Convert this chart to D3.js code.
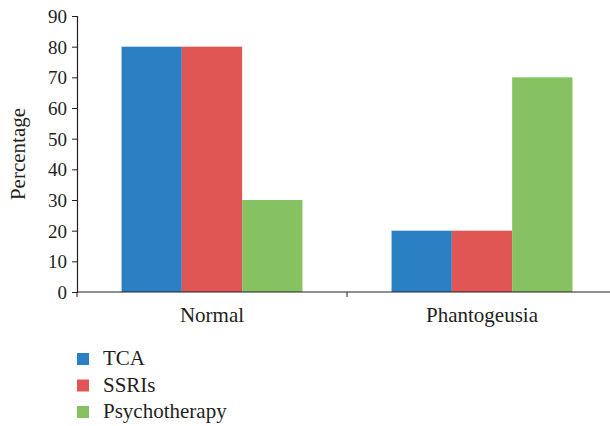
<!DOCTYPE html>
<html>
<head>
<meta charset="utf-8">
<script src="https://cdn.jsdelivr.net/npm/d3@7"></script>
<style>
  body { margin: 0; background: #fff; }
  svg text { font-family: "Liberation Serif", "Times New Roman", serif !important; fill: #231f20; }
</style>
</head>
<body>
<div id="chart"></div>
<script>
var categories = ["Normal", "Phantogeusia"];
var seriesNames = ["TCA", "SSRIs", "Psychotherapy"];
var tca = [80, 20];
var ssris = [80, 20];
var psychotherapy = [30, 70];
var yTicks = [0, 10, 20, 30, 40, 50, 60, 70, 80, 90];
var colors = ["#2a80c2", "#e05654", "#86c261"];

var seriesValues = [tca, ssris, psychotherapy];
var width = 610, height = 426;
var serif = "'Liberation Serif', 'Times New Roman', serif";

var svg = d3.select("#chart")
	.append("svg")
	.attr("width", width)
	.attr("height", height);

// outer scale for the groups, inner one for the bars in a group
var x0 = d3.scaleBand()
	.domain(categories)
	.range([77, 617])
	.paddingInner(0.33)
	.paddingOuter(0.165);

var x1 = d3.scaleBand()
	.domain(seriesNames)
	.range([0, x0.bandwidth()]);

var y = d3.scaleLinear()
	.domain([0, 90])
	.range([292, 16]);

var rows = categories.map(function(c, i) {
	return seriesNames.map(function(s, j) {
		return { cat: c, series: s, value: seriesValues[j][i], color: colors[j] };
	});
});

var group = svg.selectAll(".group")
	.data(rows)
	.enter().append("g")
	.attr("class", "group")
	.attr("transform", function(d, i) { return "translate(" + x0(categories[i]) + ",0)"; });

group.selectAll("rect")
	.data(function(d) { return d; })
	.enter().append("rect")
	.attr("x", function(d) { return x1(d.series); })
	.attr("y", function(d) { return y(d.value); })
	.attr("width", x1.bandwidth())
	.attr("height", function(d) { return y(0) - y(d.value); })
	.style("fill", function(d) { return d.color; });

// y axis
var yAxis = svg.append("g")
	.attr("transform", "translate(77,0)")
	.call(d3.axisLeft(y).tickValues(yTicks).tickSize(5).tickPadding(5));
yAxis.attr("font-family", serif).attr("font-size", 19);
yAxis.select(".domain").attr("stroke", "#231f20").attr("stroke-width", 1.2);
yAxis.selectAll(".tick line").attr("stroke", "#231f20");
yAxis.selectAll("text").style("font-size", "19px").style("font-family", serif)
	.style("fill", "#231f20").attr("dy", "0.34em");

// x axis line with ticks at group boundaries
var step = x0.step();
var half = step * x0.paddingInner() / 2;
svg.append("line")
	.attr("x1", 77).attr("x2", 610)
	.attr("y1", y(0)).attr("y2", y(0))
	.attr("stroke", "#231f20").attr("stroke-width", 1.2);
var bounds = [x0(categories[0]) - half, x0(categories[1]) - half];
svg.selectAll(".xtick")
	.data(bounds)
	.enter().append("line")
	.attr("class", "xtick")
	.attr("x1", function(d) { return d; }).attr("x2", function(d) { return d; })
	.attr("y1", y(0)).attr("y2", y(0) + 5)
	.attr("stroke", "#231f20");

svg.selectAll(".xlabel")
	.data(categories)
	.enter().append("text")
	.attr("class", "xlabel")
	.attr("x", function(d) { return x0(d) + x0.bandwidth() / 2; })
	.attr("y", 322)
	.attr("text-anchor", "middle")
	.style("font-size", "21px")
	.text(function(d) { return d; });

svg.append("text")
	.attr("transform", "translate(25,154) rotate(-90)")
	.attr("text-anchor", "middle")
	.style("font-size", "21px")
	.text("Percentage");

// legend
var legend = svg.selectAll(".legend")
	.data(seriesNames)
	.enter().append("g")
	.attr("class", "legend")
	.attr("transform", function(d, i) { return "translate(77," + (353 + i * 26.5) + ")"; });
legend.append("rect")
	.attr("width", 12).attr("height", 12)
	.style("fill", function(d, i) { return colors[i]; });
legend.append("text")
	.attr("x", 26).attr("y", 12)
	.style("font-size", "21px")
	.text(function(d) { return d; });
</script>
</body>
</html>
